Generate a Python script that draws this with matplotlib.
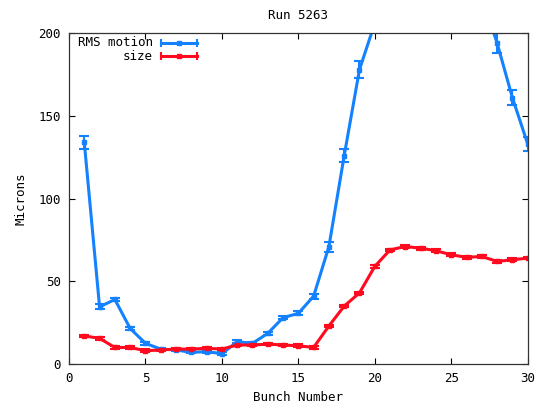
import matplotlib
matplotlib.use("Agg")
import matplotlib.pyplot as plt
import numpy as np

bunch = list(range(1, 31))
rms_motion = [134, 34.5, 39, 21.5, 12.5, 9, 8.5, 7, 7.5, 6.2,
              13.5, 12.5, 18.5, 28, 30.6, 41, 71, 126, 178, 206,
              230, 250, 262, 268, 260, 245, 222, 194, 161, 133]
rms_err = [4, 1.5, 1, 1, 0.8, 0.6, 0.6, 0.6, 0.6, 0.8,
           1, 1, 1, 1, 1.2, 1.5, 3, 4, 5, 5,
           5, 5, 5, 5, 5, 5, 5, 6, 4.5, 4.5]
size = [17, 15.5, 10, 10, 8, 8.5, 9, 9, 9.5, 9,
        11.5, 11.5, 12, 11.5, 11, 10, 23, 35, 43, 59,
        69, 71, 70, 68.5, 66, 64.5, 65, 62, 63, 64]
size_err = [0.8] * 30

blue = '#1482ff'
red = '#ff0a1e'
font = 'DejaVu Sans Mono'
fs = 9

fig = plt.figure(figsize=(5.39, 4.04), dpi=100)
ax = fig.add_axes([0.128, 0.099, 0.851, 0.819])

ax.errorbar(bunch, rms_motion, yerr=rms_err, color=blue, lw=2.2, marker='s', ms=2.5,
            capsize=3.5, elinewidth=1.5, capthick=1.5, clip_on=True)
ax.errorbar(bunch, size, yerr=size_err, color=red, lw=2.2, marker='s', ms=2.5,
            capsize=3.5, elinewidth=1.5, capthick=1.5, clip_on=True)

ax.set_xlim(0, 30)
ax.set_ylim(0, 200)
ax.set_xticks(range(0, 31, 5))
ax.set_yticks(range(0, 201, 50))
ax.tick_params(direction='in', length=4, width=0.8, top=True, right=True, labelsize=fs, pad=6)
for lab in ax.get_xticklabels() + ax.get_yticklabels():
    lab.set_fontfamily(font)
for s in ax.spines.values():
    s.set_linewidth(0.9)
    s.set_color('#333333')

ax.set_title('Run 5263', fontsize=fs, fontfamily=font, pad=10)
ax.set_xlabel('Bunch Number', fontsize=fs, fontfamily=font, labelpad=4)
ax.set_ylabel('Microns', fontsize=fs, fontfamily=font, labelpad=8)

# legend in gnuplot style
legend_items = [('RMS motion', blue, 0.971), ('size', red, 0.930)]
for label, col, yy in legend_items:
    ax.text(0.183, yy, label, transform=ax.transAxes, ha='right', va='center',
            fontsize=fs, fontfamily=font)
    ax.plot([0.2, 0.278], [yy, yy], transform=ax.transAxes, color=col, lw=2.2,
            clip_on=False)
    ax.plot([0.2, 0.278], [yy, yy], transform=ax.transAxes, color=col, lw=0,
            marker='|', ms=6, mew=1.5, clip_on=False)
    ax.plot([0.239], [yy], transform=ax.transAxes, color=col, marker='s', ms=2.5,
            clip_on=False)

fig.savefig('out.png', dpi=100)
